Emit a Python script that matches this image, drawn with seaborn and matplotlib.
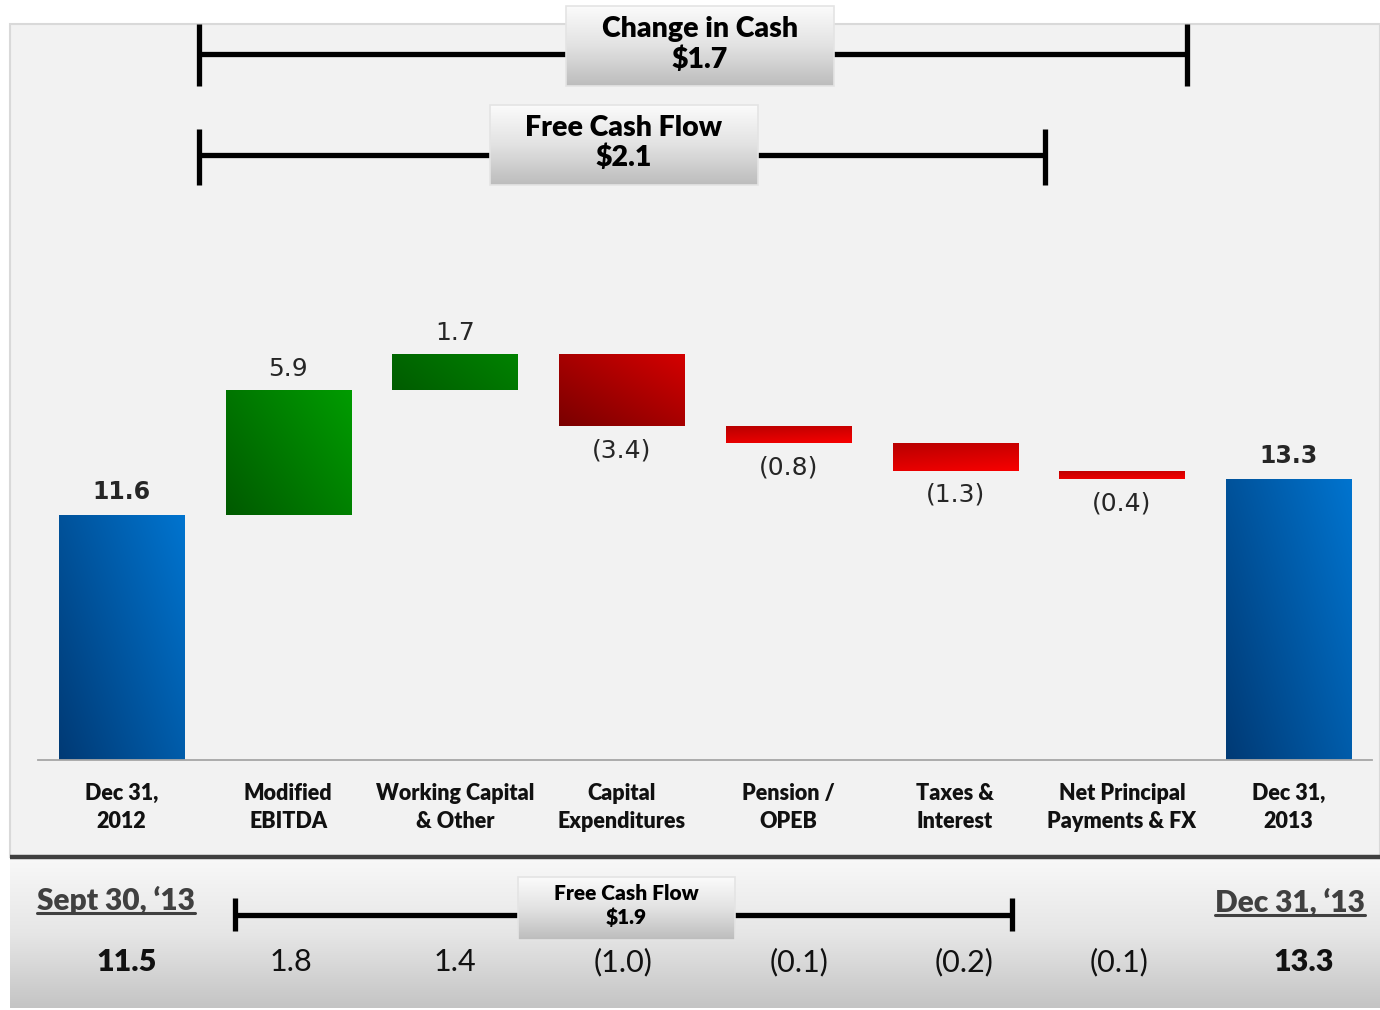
import numpy as np
import pandas as pd
import matplotlib
matplotlib.use("Agg")
import matplotlib.pyplot as plt
import seaborn as sns
from matplotlib.colors import LinearSegmentedColormap, to_rgb
from matplotlib.patches import Rectangle
from matplotlib.transforms import blended_transform_factory, Affine2D

# ---------------- data ----------------
categories = ["Dec 31,\n2012", "Modified\nEBITDA", "Working Capital\n& Other",
              "Capital\nExpenditures", "Pension /\nOPEB", "Taxes &\nInterest",
              "Net Principal\nPayments & FX", "Dec 31,\n2013"]
values = [11.6, 5.9, 1.7, -3.4, -0.8, -1.3, -0.4, 13.3]
kinds = ["total", "up", "up2", "down", "down2", "down2", "down2", "total"]
value_labels = ["11.6", "5.9", "1.7", "(3.4)", "(0.8)", "(1.3)", "(0.4)", "13.3"]

q3_values = ["11.5", "1.8", "1.4", "(1.0)", "(0.1)", "(0.2)", "(0.1)", "13.3"]
q3_header_left = "Sept 30, \u201813"
q3_header_right = "Dec 31, \u201813"
bracket_labels = ["Change in Cash\n$1.7", "Free Cash Flow\n$2.1"]
q3_bracket_label = "Free Cash Flow\n$1.9"

# waterfall geometry from values
lows, highs = [], []
run = 0.0
for v, k in zip(values, kinds):
    if k == "total":
        lows.append(0.0); highs.append(v); run = v
    else:
        lows.append(min(run, run + v)); highs.append(max(run, run + v)); run += v

df = pd.DataFrame({"category": categories, "top": highs})

# ---------------- figure ----------------
sns.set_theme(style="white")
plt.rcParams["font.family"] = ["Lato", "DejaVu Sans"]
W, H = 1380, 1010
fig = plt.figure(figsize=(13.8, 10.1), dpi=100)
fig.patch.set_facecolor("white")

bg = fig.add_axes([0, 0, 1, 1], zorder=0)
bg.set_xlim(0, W); bg.set_ylim(H, 0); bg.axis("off")
bg.add_patch(Rectangle((10, 24), W - 10, 833, facecolor="#f2f2f2",
                       edgecolor="#d9d9d9", lw=1.5))
grad = np.linspace(0, 1, 256).reshape(-1, 1)
cm_panel = LinearSegmentedColormap.from_list("p", ["#f8f8f8", "#e6e6e6", "#c4c4c4"])
bg.imshow(grad, extent=[10, W, 1008, 859], cmap=cm_panel, aspect="auto", zorder=1)
bg.plot([10, W], [857, 857], color="#3f3f3f", lw=3.2, solid_capstyle="butt", zorder=2)
bg.set_xlim(0, W); bg.set_ylim(H, 0)

# main axes
ppu = 21.12
ax = fig.add_axes([38 / W, (H - 760) / H, (1372 - 38) / W, (760 - 24) / H], zorder=1)
ax.patch.set_alpha(0)
sns.barplot(data=df, x="category", y="top", ax=ax, width=0.75, color="gray")

styles = {
    "total": ("#003a75", "#0074cf", 35),
    "up": ("#005a00", "#009c00", 35),
    "up2": ("#005c00", "#008200", 20),
    "down": ("#7a0000", "#d40000", 45),
    "down2": ("#b80000", "#f80000", -70),
}

def gradient_img(c0, c1, angle, n=64):
    xx, yy = np.meshgrid(np.linspace(0, 1, n), np.linspace(0, 1, n))
    a = np.deg2rad(angle)
    t = xx * np.cos(a) + yy * np.sin(a)
    t = (t - t.min()) / (t.max() - t.min())
    c0, c1 = np.array(to_rgb(c0)), np.array(to_rgb(c1))
    return c0[None, None, :] * (1 - t[..., None]) + c1[None, None, :] * t[..., None]

for i, p in enumerate(ax.patches):
    p.set_y(lows[i]); p.set_height(highs[i] - lows[i])
    p.set_facecolor("none"); p.set_edgecolor("none")
    x0 = p.get_x(); x1 = x0 + p.get_width()
    c0, c1, ang = styles[kinds[i]]
    img = gradient_img(c0, c1, ang)
    im = ax.imshow(img, extent=[x0, x1, lows[i], highs[i]], origin="lower",
                   aspect="auto", zorder=2, interpolation="bilinear")
    im.set_clip_path(p)

# value labels
for i, (v, k, lab) in enumerate(zip(values, kinds, value_labels)):
    bold = k == "total"
    if v >= 0:
        ax.annotate(lab, xy=(i, highs[i]), xytext=(0, 11 if bold else 9),
                    textcoords="offset pixels", ha="center", va="bottom",
                    fontsize=18 if not bold else 17, fontweight="bold" if bold else "normal",
                    color="#262626", family="DejaVu Sans")
    else:
        ax.annotate(lab, xy=(i, lows[i]), xytext=(0, -12), textcoords="offset pixels",
                    ha="center", va="top", fontsize=18, color="#262626",
                    family="DejaVu Sans")

ax.set_xlim(-0.5, 7.5)
ax.set_ylim(0, (760 - 24) / ppu)
for s in ["top", "right", "left"]:
    ax.spines[s].set_visible(False)
ax.spines["bottom"].set_color("#a6a6a6")
ax.spines["bottom"].set_linewidth(1.3)
ax.set_yticks([])
ax.set_xticks(np.arange(-0.5, 8.0, 1.0), minor=True)
ax.set_xticks(range(len(categories)))
ax.set_xticklabels(categories, fontsize=15.5, fontweight="heavy", color="#111111",
                   linespacing=1.4)
ax.tick_params(axis="x", which="major", length=0, pad=16.5)
ax.tick_params(axis="x", which="minor", length=6, width=1.2, color="#a6a6a6",
               direction="out")
ax.set_xlabel(""); ax.set_ylabel("")

# foreground overlay
fg = fig.add_axes([0, 0, 1, 1], zorder=2)
fg.patch.set_alpha(0)
fg.set_xlim(0, W); fg.set_ylim(H, 0); fg.axis("off")

cm_box = LinearSegmentedColormap.from_list("b", ["#fbfbfb", "#e2e2e2", "#bcbcbc"])

def bracket(x0, x1, y, t0, t1, lw):
    fg.plot([x0, x1], [y, y], color="black", lw=lw, solid_capstyle="butt", zorder=3)
    for xx in (x0, x1):
        fg.plot([xx, xx], [t0, t1], color="black", lw=lw, solid_capstyle="butt", zorder=3)

def box(x0, x1, y0, y1, text, size, lines_y):
    fg.imshow(grad, extent=[x0, x1, y1, y0], cmap=cm_box, aspect="auto", zorder=4)
    fg.add_patch(Rectangle((x0, y0), x1 - x0, y1 - y0, facecolor="none",
                           edgecolor="#e4e4e4", lw=1.2, zorder=5))
    for ln, yy in zip(text.split("\n"), lines_y):
        fg.text((x0 + x1) / 2, yy, ln, ha="center", va="center", fontsize=size,
                fontweight="heavy", color="black", zorder=6)

bracket(199, 1187, 54, 24, 86, 3.8)
box(566, 834, 6, 86, bracket_labels[0], 20.5, [29, 60])
bracket(199, 1045, 155, 129, 185, 3.8)
box(490, 758, 105, 185, bracket_labels[1], 20.5, [128, 158])

bracket(235, 1012, 915, 898, 931, 3.8)
box(518, 735, 877, 940, q3_bracket_label, 15, [894, 917])

# bottom panel numbers (small horizontal nudges match the reference layout)
nudge = [5, 3, 0, 1, 11, 9, -3, 15]
trans = blended_transform_factory(ax.transData, fg.transData)
for i, lab in enumerate(q3_values):
    bold = kinds[i] == "total"
    fg.text(i, 962, lab, transform=trans + Affine2D().translate(nudge[i], 0),
            ha="center", va="center", fontsize=22,
            fontweight="heavy" if bold else "normal", color="#111111")

hl = fg.text(37, 900, q3_header_left, ha="left", va="center", fontsize=21.5,
             fontweight="heavy", color="#404040")
hr = fg.text(1365, 902, q3_header_right, ha="right", va="center", fontsize=21.5,
             fontweight="heavy", color="#404040")
fg.set_xlim(0, W); fg.set_ylim(H, 0)

fig.canvas.draw()
r = fig.canvas.get_renderer()
for t, yy in ((hl, 913), (hr, 915)):
    bb = t.get_window_extent(r)
    fg.plot([bb.x0, bb.x1], [yy, yy], color="#404040", lw=2.2, zorder=6)
fg.set_xlim(0, W); fg.set_ylim(H, 0)

fig.savefig("out.png", dpi=100, facecolor="white")
